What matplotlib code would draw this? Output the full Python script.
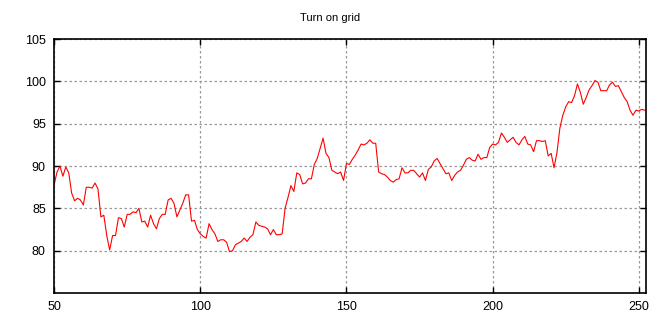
import matplotlib
matplotlib.use("Agg")
import matplotlib.pyplot as plt
import numpy as np

x_start = 50
values = [
    87.8, 89.3, 90.0, 88.8, 89.9, 89.2, 86.8, 85.9, 86.2, 86.0,   # 50-59
    85.4, 87.5, 87.5, 87.4, 88.0, 87.3, 84.0, 84.2, 81.8, 80.1,   # 60-69
    81.8, 81.8, 83.9, 83.8, 82.8, 84.3, 84.3, 84.6, 84.5, 85.0,   # 70-79
    83.4, 83.5, 82.8, 84.2, 83.2, 82.6, 83.8, 84.3, 84.3, 86.0,   # 80-89
    86.2, 85.6, 84.0, 84.8, 85.6, 86.6, 86.6, 83.5, 83.6, 82.5,   # 90-99
    82.0, 81.7, 81.5, 83.2, 82.5, 82.0, 81.1, 81.3, 81.3, 81.0,   # 100-109
    79.9, 80.0, 80.7, 80.9, 81.1, 81.5, 81.1, 81.6, 81.9, 83.4,   # 110-119
    83.0, 82.9, 82.8, 82.6, 81.9, 82.5, 81.9, 81.9, 82.0, 85.0,   # 120-129
    86.3, 87.7, 87.0, 89.2, 89.0, 87.9, 88.0, 88.5, 88.5, 90.2,   # 130-139
    90.9, 92.1, 93.3, 91.5, 91.0, 89.5, 89.3, 89.1, 89.3, 88.3,   # 140-149
    90.3, 90.2, 90.8, 91.3, 91.9, 92.6, 92.5, 92.7, 93.1, 92.7,   # 150-159
    92.7, 89.3, 89.1, 89.0, 88.7, 88.3, 88.1, 88.4, 88.5, 89.8,   # 160-169
    89.2, 89.2, 89.5, 89.5, 89.1, 88.7, 89.2, 88.3, 89.6, 89.9,   # 170-179
    90.6, 90.9, 90.3, 89.7, 89.1, 89.2, 88.3, 88.9, 89.3, 89.5,   # 180-189
    90.1, 90.8, 91.0, 90.7, 90.6, 91.4, 90.8, 91.0, 91.0, 92.2,   # 190-199
    92.6, 92.5, 92.8, 93.9, 93.4, 92.8, 93.1, 93.4, 92.8, 92.5,   # 200-209
    93.1, 93.5, 92.6, 92.5, 91.7, 93.0, 93.0, 92.9, 93.0, 91.2,   # 210-219
    91.5, 89.8, 91.6, 94.5, 96.0, 97.0, 97.6, 97.5, 98.3, 99.7,   # 220-229
    98.7, 97.3, 98.1, 99.0, 99.5, 100.1, 99.9, 98.9, 98.9, 98.9,  # 230-239
    99.6, 99.9, 99.4, 99.5, 98.8, 98.1, 97.6, 96.6, 96.0, 96.6,   # 240-249
    96.5, 96.7, 96.6,                                             # 250-252
]
x = np.arange(x_start, x_start + len(values))

x_ticks = [50, 100, 150, 200, 250]
y_ticks = [80, 85, 90, 95, 100, 105]
title = "Turn on grid"

plt.rcParams['font.family'] = ['Liberation Sans', 'DejaVu Sans']

fig = plt.figure(figsize=(6.6, 3.2), dpi=100)
ax = fig.add_axes([0.082, 0.084, 0.897, 0.794])
ax.plot(x, values, color='#ff0000', linewidth=0.8)

ax.set_xlim(50, 252.5)
ax.set_ylim(75, 105)
ax.set_xticks(x_ticks)
ax.set_yticks(y_ticks)
ax.grid(True, color='#999999', linestyle=(0, (2, 2)), linewidth=0.9)
ax.tick_params(direction='in', length=4, width=1, labelsize=9,
               top=True, right=True, colors='black', pad=6)
for s in ax.spines.values():
    s.set_linewidth(1.2)
    s.set_color('black')

fig.text(0.5, 1 - 18 / 320, title, ha='center', va='center', fontsize=8)

fig.savefig("out.png", dpi=100)
